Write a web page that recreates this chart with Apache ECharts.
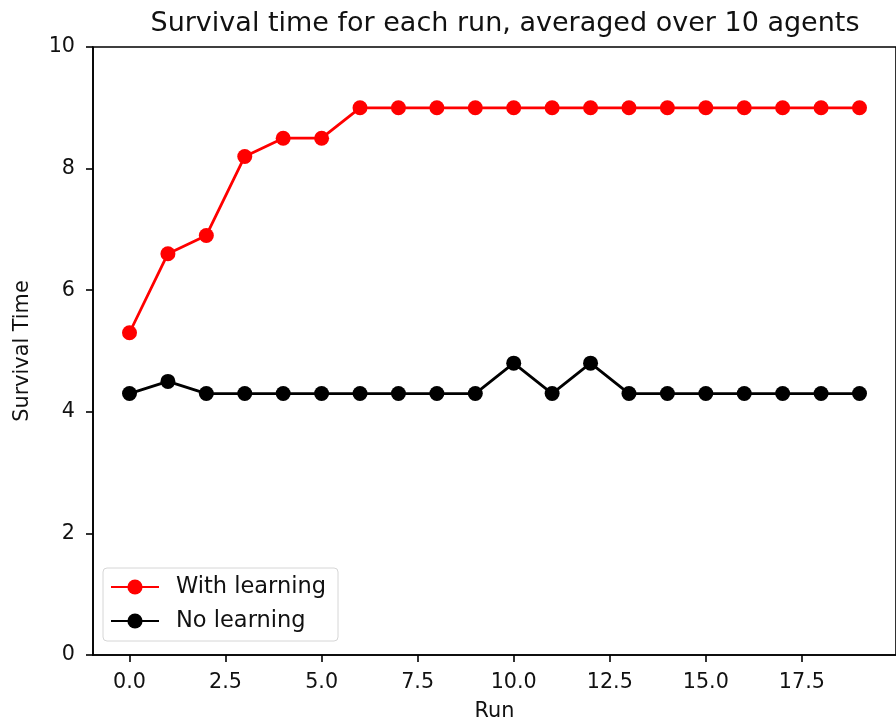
<!DOCTYPE html>
<html>
<head>
<meta charset="utf-8">
<script src="https://cdn.jsdelivr.net/npm/echarts@6/dist/echarts.min.js"></script>
<style>
  html, body { margin: 0; padding: 0; background: #fff; }
  #chart { width: 896px; height: 727px; }
</style>
</head>
<body>
<div id="chart"></div>
<script>
// Average survival time per run (10 agents)
const runs = [0, 1, 2, 3, 4, 5, 6, 7, 8, 9, 10, 11, 12, 13, 14, 15, 16, 17, 18, 19];
const withLearning = [5.3, 6.6, 6.9, 8.2, 8.5, 8.5, 9, 9, 9, 9, 9, 9, 9, 9, 9, 9, 9, 9, 9, 9];
const noLearning = [4.3, 4.5, 4.3, 4.3, 4.3, 4.3, 4.3, 4.3, 4.3, 4.3, 4.8, 4.3, 4.8, 4.3, 4.3, 4.3, 4.3, 4.3, 4.3, 4.3];
const xTicks = [0, 2.5, 5, 7.5, 10, 12.5, 15, 17.5];

const font = 'DejaVu Sans';
const ink = '#111111';
const pairs = (ys) => runs.map((x, i) => [x, ys[i]]);

const chart = echarts.init(document.getElementById('chart'), null, { renderer: 'canvas' });
chart.setOption({
  animation: false,
  backgroundColor: '#ffffff',
  textStyle: { fontFamily: font },
  title: {
    text: 'Survival time for each run, averaged over 10 agents',
    left: 500,
    textAlign: 'center',
    top: 5,
    textStyle: { fontFamily: font, fontSize: 27, fontWeight: 'normal', color: ink }
  },
  grid: {
    left: 93, top: 47, width: 815, height: 608,
    show: true, borderColor: '#000', borderWidth: 1.6, backgroundColor: 'transparent'
  },
  legend: {
    left: 103, top: 568, orient: 'vertical',
    backgroundColor: 'rgba(255,255,255,0.8)',
    borderColor: '#d6d6d6', borderWidth: 1, borderRadius: 4,
    padding: [7, 12, 8, 7],
    itemGap: 10, itemWidth: 48, itemHeight: 19,
    textStyle: { fontFamily: font, fontSize: 22.5, lineHeight: 24, color: ink, padding: [0, 0, 0, 12] },
    data: ['With learning', 'No learning']
  },
  xAxis: {
    type: 'value', min: -0.95, max: 19.95,
    name: 'Run', nameLocation: 'middle', nameGap: 46,
    nameTextStyle: { fontFamily: font, fontSize: 20.8, color: ink },
    axisLine: { show: true, onZero: false, lineStyle: { color: '#000', width: 1.6 } },
    axisTick: { show: true, customValues: xTicks, length: 7, lineStyle: { color: '#000', width: 1.6 } },
    axisLabel: { customValues: xTicks, margin: 17, fontFamily: font, fontSize: 20.7, color: ink,
      formatter: (v) => Number(v).toFixed(1) },
    splitLine: { show: false }
  },
  yAxis: {
    type: 'value', min: 0, max: 10, interval: 2,
    name: 'Survival Time', nameLocation: 'middle', nameGap: 60, nameRotate: 90,
    nameTextStyle: { fontFamily: font, fontSize: 20.8, color: ink },
    axisLine: { show: true, onZero: false, lineStyle: { color: '#000', width: 1.6 } },
    axisTick: { show: true, length: 7, lineStyle: { color: '#000', width: 1.6 } },
    axisLabel: { margin: 18, fontFamily: font, fontSize: 20.7, color: ink },
    splitLine: { show: false }
  },
  series: [
    {
      name: 'With learning', type: 'line', data: pairs(withLearning),
      symbol: 'circle', symbolSize: 15, showAllSymbol: true,
      lineStyle: { color: '#ff0000', width: 2.8 },
      itemStyle: { color: '#ff0000' }
    },
    {
      name: 'No learning', type: 'line', data: pairs(noLearning),
      symbol: 'circle', symbolSize: 15, showAllSymbol: true,
      lineStyle: { color: '#000000', width: 2.8 },
      itemStyle: { color: '#000000' }
    }
  ]
});
</script>
</body>
</html>
